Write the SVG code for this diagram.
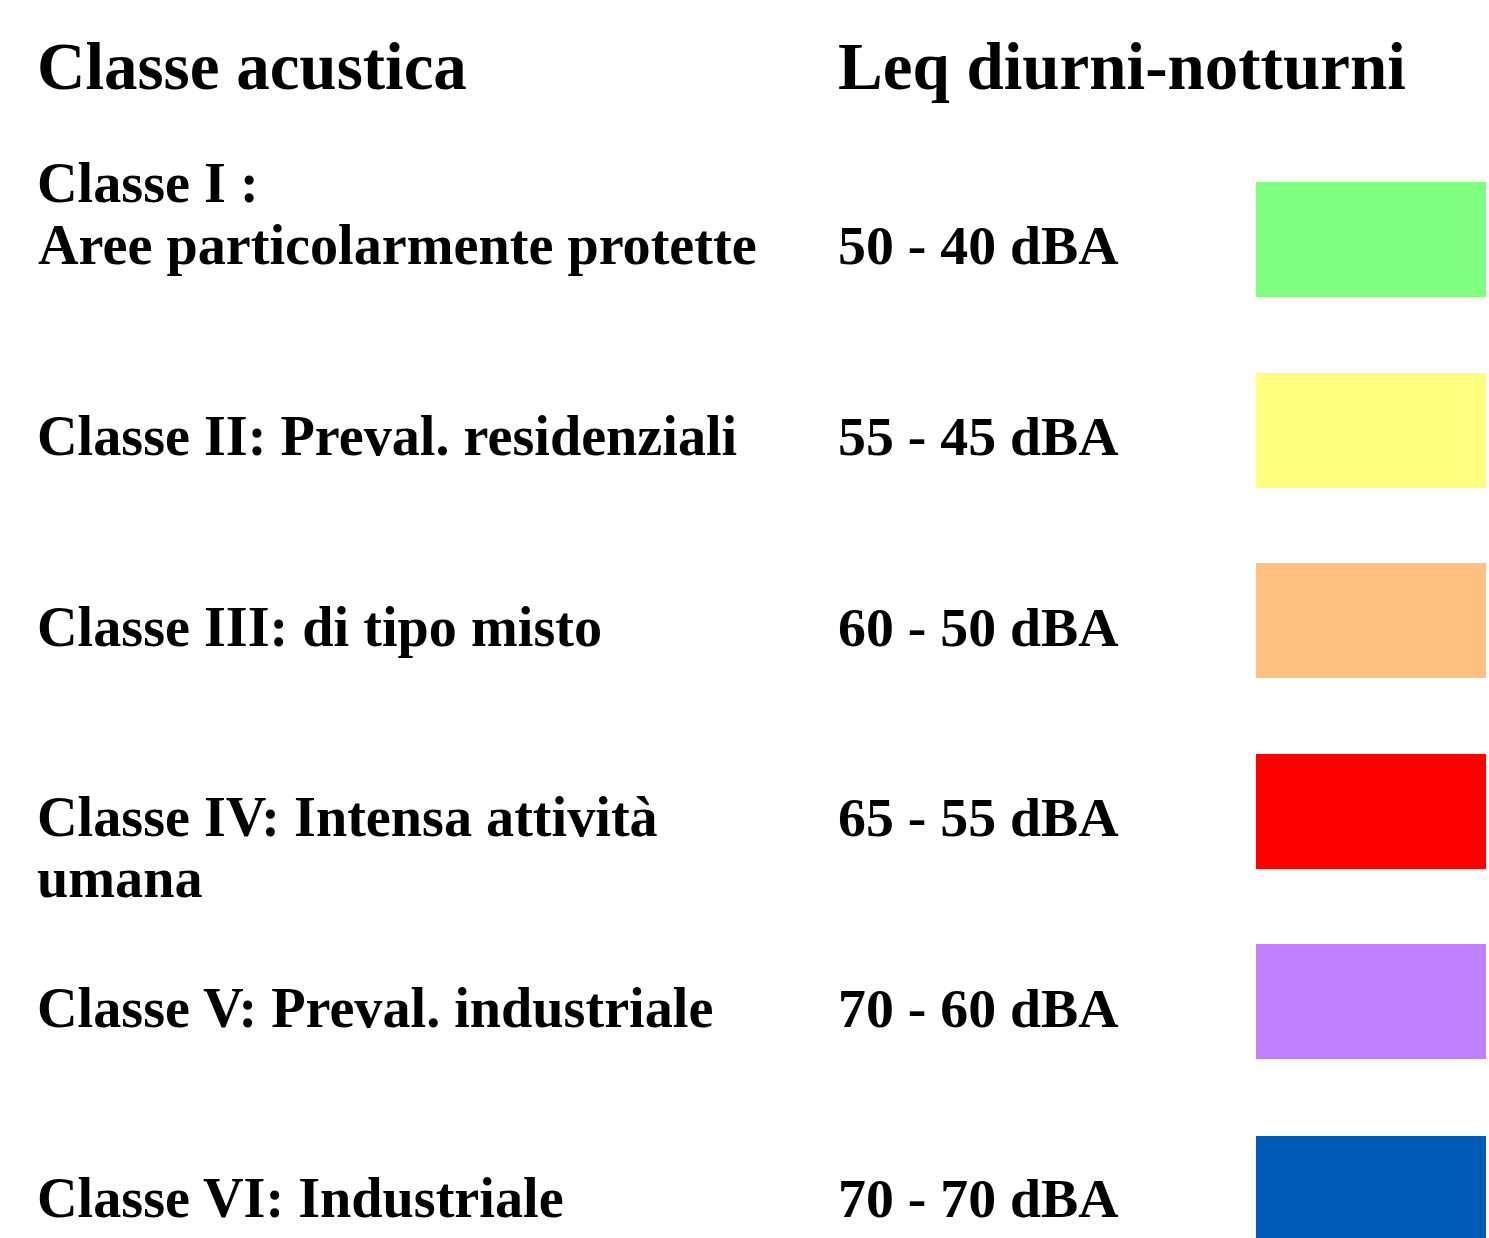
<svg xmlns="http://www.w3.org/2000/svg" width="1489" height="1238" viewBox="0 0 1489 1238">
<style>
text{font-family:"Liberation Serif","Times New Roman",serif;font-weight:bold;fill:#000}
.h{font-size:67px}
.t{font-size:56.2px}
.v{font-size:55.8px}
</style>
<rect width="1489" height="1238" fill="#fff"/>
<g id="header">
<text class="h" x="37" y="89">Classe acustica</text>
<text class="h" x="838" y="89">Leq diurni-notturni</text>
</g>
<g id="classe1">
<text class="t" x="37" y="202">Classe I :</text>
<text class="t" x="38" y="264">Aree particolarmente protette</text>
<text class="v" x="838" y="264">50 - 40 dBA</text>
<rect x="1256" y="182" width="230" height="115" fill="#80ff80"/>
</g>
<g id="classe2">
<text class="t" x="37" y="455">Classe II: Preval. residenziali</text>
<text class="v" x="838" y="455">55 - 45 dBA</text>
<rect x="1256" y="373" width="230" height="115" fill="#ffff80"/>
</g>
<g id="classe3">
<text class="t" x="37" y="646">Classe III: di tipo misto</text>
<text class="v" x="838" y="646">60 - 50 dBA</text>
<rect x="1256" y="563" width="230" height="115" fill="#ffc080"/>
</g>
<g id="classe4">
<text class="t" x="37" y="836">Classe IV: Intensa attività</text>
<text class="t" x="37" y="897">umana</text>
<text class="v" x="838" y="836">65 - 55 dBA</text>
<rect x="1256" y="754" width="230" height="115" fill="#ff0000"/>
</g>
<g id="classe5">
<text class="t" x="37" y="1027">Classe V: Preval. industriale</text>
<text class="v" x="838" y="1027">70 - 60 dBA</text>
<rect x="1256" y="944" width="230" height="115" fill="#c080ff"/>
</g>
<g id="classe6">
<text class="t" x="37" y="1217">Classe VI: Industriale</text>
<text class="v" x="838" y="1217">70 - 70 dBA</text>
<rect x="1256" y="1136" width="230" height="110" fill="#005bb8"/>
</g>
</svg>
